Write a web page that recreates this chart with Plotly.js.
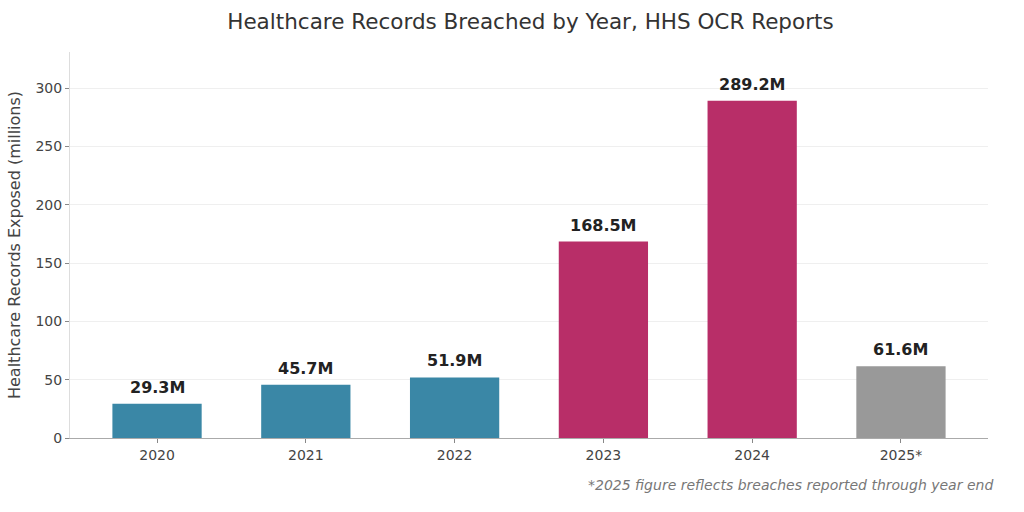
<!DOCTYPE html>
<html>
<head>
<meta charset="utf-8">
<script src="https://cdn.plot.ly/plotly-3.0.1.min.js"></script>
<style>html,body{margin:0;padding:0;background:#fff}#chart{width:1024px;height:512px}</style>
</head>
<body>
<div id="chart"></div>
<script>
// Records exposed per year (millions)
const years = ['2020', '2021', '2022', '2023', '2024', '2025*'];
const records = [29.3, 45.7, 51.9, 168.5, 289.2, 61.6];
const barColors = ['#3a87a6', '#3a87a6', '#3a87a6', '#b82e68', '#b82e68', '#999999'];
const valueLabels = records.map(v => v.toFixed(1) + 'M');

const font = 'DejaVu Sans, Verdana, sans-serif';

const trace = {
  type: 'bar',
  x: years,
  y: records,
  width: 0.6,
  marker: {color: barColors, line: {width: 0}},
  hoverinfo: 'none'
};

// value labels sit above each bar; x is the category index
const valueNotes = years.map((yr, i) => ({
  x: i, y: records[i], xref: 'x', yref: 'y',
  text: '<b>' + valueLabels[i] + '</b>',
  showarrow: false, yanchor: 'bottom', yshift: 5,
  font: {family: font, size: 16, color: '#222'}
}));

const layout = {
  width: 1024, height: 512,
  margin: {l: 70, r: 36, t: 52, b: 74},
  paper_bgcolor: '#fff', plot_bgcolor: '#fff',
  title: {
    text: 'Healthcare Records Breached by Year, HHS OCR Reports',
    font: {family: font, size: 21.5, color: '#333'},
    x: 0.518, xanchor: 'center', y: 0.958, yanchor: 'middle'
  },
  xaxis: {
    type: 'category',
    range: [-0.585, 5.585],
    showline: true, linecolor: '#aaa', linewidth: 1,
    ticks: 'outside', ticklen: 4, tickcolor: '#888',
    tickfont: {family: font, size: 14, color: '#444'},
    showgrid: false, zeroline: false
  },
  yaxis: {
    range: [0, 331],
    tickvals: [0, 50, 100, 150, 200, 250, 300],
    showline: true, linecolor: '#ddd', linewidth: 1,
    ticks: 'outside', ticklen: 4, tickcolor: '#888',
    tickfont: {family: font, size: 14, color: '#444'},
    showgrid: true, gridcolor: '#efefef', gridwidth: 1,
    zeroline: false,
    title: {text: 'Healthcare Records Exposed (millions)', font: {family: font, size: 16, color: '#444'}, standoff: 10}
  },
  annotations: valueNotes.concat([{
    xref: 'paper', yref: 'paper', x: 1.008, y: -0.122,
    xanchor: 'right', yanchor: 'middle', showarrow: false,
    text: '<i>*2025 figure reflects breaches reported through year end</i>',
    font: {family: font, size: 14, color: '#777'}
  }]),
  showlegend: false
};

Plotly.newPlot('chart', [trace], layout, {displayModeBar: false, staticPlot: true});
</script>
</body>
</html>
